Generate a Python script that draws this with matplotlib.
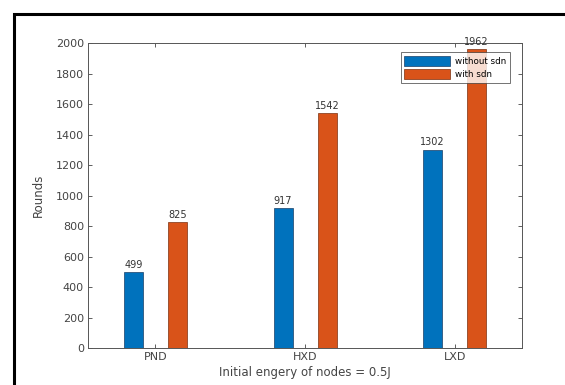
import numpy as np
import matplotlib.pyplot as plt
from matplotlib.patches import Rectangle

# data
categories = ['PND', 'HXD', 'LXD']
without_sdn = [499, 917, 1302]
with_sdn = [825, 1542, 1962]
series_names = ['without sdn', 'with sdn']

blue = '#0072BD'
orange = '#D95319'

fig = plt.figure(figsize=(5.65, 3.85), dpi=100)
ax = fig.add_axes([0.156, 0.096, 0.768, 0.792])

x = np.arange(1, len(categories) + 1)
w = 0.127
off = 0.147
b1 = ax.bar(x - off, without_sdn, w, color=blue, edgecolor='#1a3f66', linewidth=0.5, label=series_names[0])
b2 = ax.bar(x + off, with_sdn, w, color=orange, edgecolor='#7a3010', linewidth=0.5, label=series_names[1])

# value labels on top of the bars
for bars, vals in [(b1, without_sdn), (b2, with_sdn)]:
    for r, v in zip(bars, vals):
        ax.text(r.get_x() + r.get_width() / 2, v + 15, str(v), ha='center', va='bottom',
                fontsize=7, color='#333333', clip_on=False)

ax.set_xlim(0.55, 3.45)
ax.set_ylim(0, 2000)
ax.set_yticks(np.arange(0, 2001, 200))
ax.set_xticks(x)
ax.set_xticklabels(categories)
ax.tick_params(labelsize=8, colors='#444444', direction='in', length=3, width=0.6,
               top=True, right=True, pad=3)
for s in ax.spines.values():
    s.set_color('#555555')
    s.set_linewidth(0.7)

ax.set_ylabel('Rounds', fontsize=8.5, color='#444444', labelpad=8)
ax.set_xlabel('Initial engery of nodes = 0.5J', fontsize=8.5, color='#444444', labelpad=3)

leg = ax.legend(loc='upper right', bbox_to_anchor=(0.972, 0.97), fontsize=6.3,
                handlelength=5.2, handleheight=1.4, frameon=True, fancybox=False,
                borderpad=0.4, labelspacing=0.4, handletextpad=0.6, borderaxespad=0)
leg.get_frame().set_edgecolor('#333333')
leg.get_frame().set_linewidth(0.6)

# black frame around the screenshot
fig.patches.append(Rectangle((14 / 565, -0.05), 1.0, 1 - 14 / 385 + 0.05,
                             transform=fig.transFigure, fill=False,
                             edgecolor='black', linewidth=2.2))

fig.savefig('out.png', dpi=100)
